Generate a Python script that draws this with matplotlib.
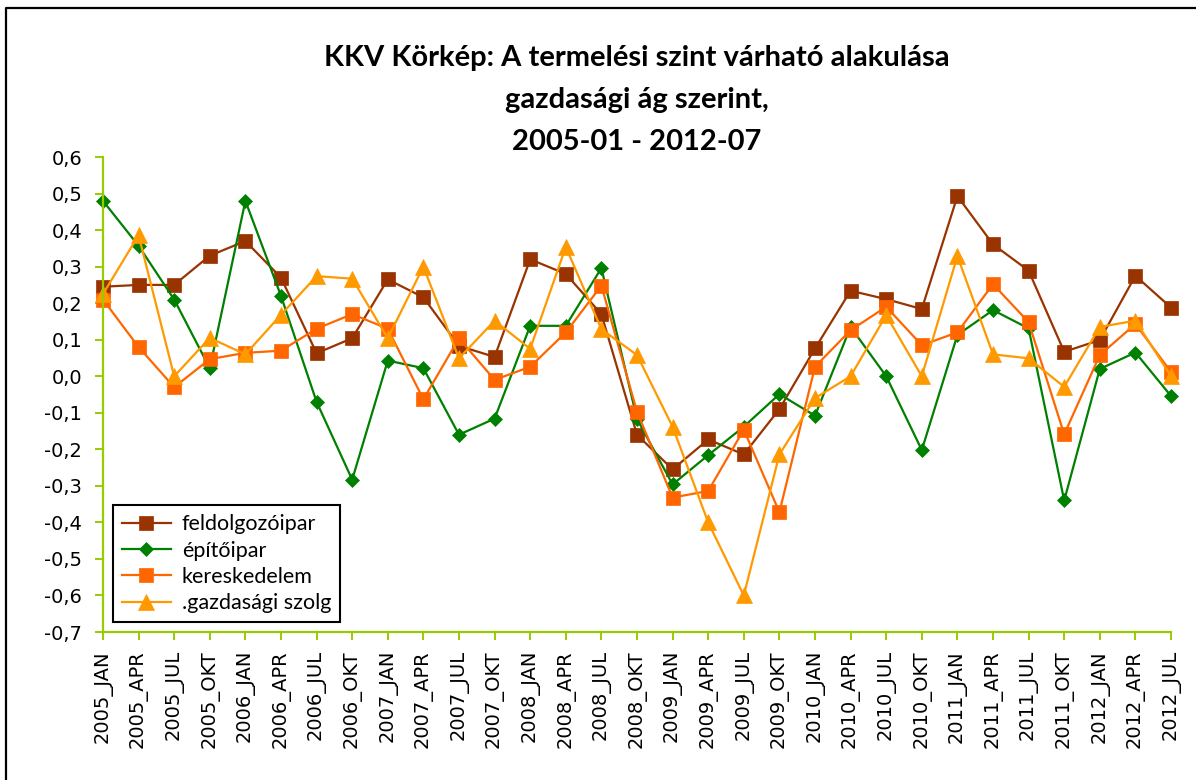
import matplotlib
matplotlib.use("Agg")
import matplotlib.pyplot as plt
from matplotlib.lines import Line2D
from matplotlib.ticker import FuncFormatter

# Negyedéves időszakok
periods = [
    "2005_JAN", "2005_APR", "2005_JUL", "2005_OKT",
    "2006_JAN", "2006_APR", "2006_JUL", "2006_OKT",
    "2007_JAN", "2007_APR", "2007_JUL", "2007_OKT",
    "2008_JAN", "2008_APR", "2008_JUL", "2008_OKT",
    "2009_JAN", "2009_APR", "2009_JUL", "2009_OKT",
    "2010_JAN", "2010_APR", "2010_JUL", "2010_OKT",
    "2011_JAN", "2011_APR", "2011_JUL", "2011_OKT",
    "2012_JAN", "2012_APR", "2012_JUL",
]

feldolgozoipar = [
    0.245, 0.25, 0.25, 0.33, 0.37, 0.27, 0.063, 0.104,
    0.265, 0.216, 0.083, 0.053, 0.32, 0.28, 0.17, -0.16,
    -0.255, -0.173, -0.214, -0.09, 0.076, 0.234, 0.211, 0.184,
    0.493, 0.361, 0.289, 0.067, 0.099, 0.275, 0.188,
]
epitoipar = [
    0.48, 0.357, 0.21, 0.022, 0.48, 0.22, -0.07, -0.283,
    0.043, 0.022, -0.16, -0.116, 0.138, 0.138, 0.296, -0.117,
    -0.296, -0.216, -0.138, -0.049, -0.108, 0.135, 0.0, -0.202,
    0.113, 0.181, 0.131, -0.34, 0.02, 0.065, -0.054,
]
kereskedelem = [
    0.21, 0.08, -0.03, 0.047, 0.064, 0.07, 0.13, 0.17,
    0.13, -0.063, 0.104, -0.01, 0.026, 0.12, 0.248, -0.097,
    -0.332, -0.314, -0.146, -0.372, 0.026, 0.126, 0.19, 0.085,
    0.12, 0.252, 0.148, -0.159, 0.058, 0.143, 0.012,
]
gazdasagi_szolg = [
    0.225, 0.386, 0.0, 0.105, 0.06, 0.168, 0.274, 0.267,
    0.104, 0.30, 0.049, 0.152, 0.075, 0.354, 0.129, 0.058,
    -0.138, -0.40, -0.60, -0.214, -0.06, 0.0, 0.167, 0.0,
    0.329, 0.06, 0.049, -0.029, 0.135, 0.152, 0.0,
]

series = [
    ("feldolgozóipar", feldolgozoipar, "#993300", "s", 9.5),
    ("építőipar", epitoipar, "#008000", "D", 7.5),
    ("kereskedelem", kereskedelem, "#FF6600", "s", 9.5),
    (".gazdasági szolg", gazdasagi_szolg, "#FF9900", "^", 11),
]

axis_color = "#99CC00"

fig = plt.figure(figsize=(11.96, 7.80), dpi=100)
ax = fig.add_axes([0.0861, 0.1897, 0.893, 0.609])

x = list(range(len(periods)))
for name, vals, col, mk, ms in series:
    ax.plot(x, vals, color=col, linewidth=1.6, marker=mk, markersize=ms,
            markerfacecolor=col, markeredgecolor=col, markeredgewidth=0.5,
            label=name, clip_on=False)

ax.set_xlim(0, len(periods) - 1)
ax.set_ylim(-0.7, 0.6)
ax.set_yticks([round(-0.7 + 0.1 * i, 1) for i in range(14)])
ax.yaxis.set_major_formatter(FuncFormatter(lambda v, p: f"{v:.1f}".replace(".", ",").replace("-0,0", "0,0")))
ax.set_xticks(x)
ax.set_xticklabels(periods, rotation=90, fontsize=14, family="DejaVu Sans")

for s in ["top", "right"]:
    ax.spines[s].set_visible(False)
for s in ["left", "bottom"]:
    ax.spines[s].set_color(axis_color)
    ax.spines[s].set_linewidth(1.6)
ax.tick_params(axis="both", direction="out", length=6, width=1.4, color=axis_color,
               labelcolor="black")
ax.tick_params(axis="y", labelsize=14, pad=9)
ax.tick_params(axis="x", pad=7)

leg = ax.legend(loc="lower left", bbox_to_anchor=(0.0094, 0.021), borderaxespad=0,
                fancybox=False, edgecolor="black", framealpha=1, handlelength=2.3,
                prop={"family": "Lato", "size": 15.5}, labelspacing=0.3,
                borderpad=0.4, handletextpad=0.5)
leg.get_frame().set_linewidth(1.5)

# Cím, három sorban, a rajzterület fölött középre
cx = 0.0861 + 0.893 / 2
title_lines = ["KKV Körkép: A termelési szint várható alakulása",
               "gazdasági ág szerint,",
               "2005-01 - 2012-07"]
for i, line in enumerate(title_lines):
    fig.text(cx, 1 - (58 + 42 * i) / 780, line, ha="center", va="center",
             fontsize=21, fontweight="bold", family="Lato")

# Keret (diagramterület széle)
fig.add_artist(Line2D([6 / 1196, 6 / 1196, 1.0], [0.0, 1 - 8 / 780, 1 - 8 / 780],
                      transform=fig.transFigure, color="black", linewidth=1.6))

fig.savefig("out.png", dpi=100)
